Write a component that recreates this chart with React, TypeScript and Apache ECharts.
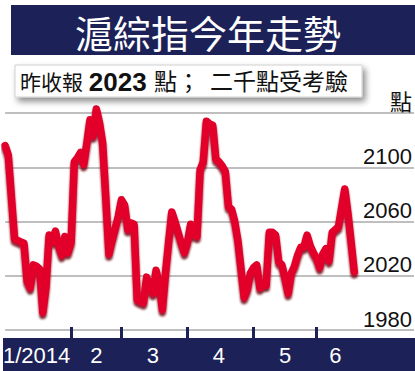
import React, { useEffect, useRef } from "react";
import * as echarts from "echarts";

// Trading days (2014) and closing values of the Shanghai Composite
const janDays = [2, 3, 6, 7, 8, 9, 10, 13, 14, 15, 16, 17, 20, 21, 22, 23, 24, 27, 28, 29, 30];
const janClose = [2116, 2109, 2078, 2047, 2046, 2045, 2044, 2016, 2011, 2028, 2027, 2025, 1993, 2012, 2050, 2045, 2053, 2042, 2035, 2049, 2037];
const febDays = [7, 10, 11, 12, 13, 14, 17, 18, 19, 20, 21, 24, 25, 26, 27, 28];
const febClose = [2045, 2104, 2107, 2111, 2102, 2118, 2135, 2123, 2143, 2133, 2118, 2078, 2036, 2046, 2055, 2064];
const marDays = [3, 4, 5, 6, 7, 10, 11, 12, 13, 14, 17, 18, 19, 20, 21, 24, 25, 26, 27, 28, 31];
const marClose = [2076, 2072, 2054, 2059, 2058, 2002, 2001, 2000, 2019, 2012, 2007, 2024, 2014, 1995, 2022, 2045, 2067, 2060, 2052, 2044, 2037];
const aprDays = [1, 2, 3, 4, 8, 9, 10, 11, 14, 15, 16, 17, 18, 21, 22, 23, 24, 25, 28, 29, 30];
const aprClose = [2045, 2058, 2050, 2049, 2098, 2104, 2134, 2132, 2131, 2106, 2104, 2101, 2097, 2071, 2069, 2060, 2046, 2025, 2004, 2010, 2022];
const mayDays = [5, 6, 7, 8, 9, 12, 13, 14, 15, 16, 19, 20, 21, 22, 23, 26, 27, 28, 29, 30];
const mayClose = [2026, 2028, 2011, 2013, 2013, 2052, 2052, 2050, 2030, 2028, 2018, 2007, 2022, 2027, 2035, 2041, 2041, 2050, 2042, 2037];
const junDays = [3, 4, 5, 6, 9, 10, 11, 12, 13, 16, 17, 18, 19];
const junClose = [2033, 2026, 2036, 2040, 2031, 2052, 2054, 2056, 2070, 2084, 2066, 2045, 2023];

const monthNumbers = [1, 2, 3, 4, 5, 6];
const monthLabels = ["1/2014", "2", "3", "4", "5", "6"];

const yMin = 1980;
const yMax = 2140;
const yStep = 40;
const unitLabel = "點";

const titleText = "滬綜指今年走勢";
const subPre = "昨收報";
const subBold = "2023";
const subPost = "點；";
const subTail = "二千點受考驗";

const NAVY = "#1c2158";
const RED = "#e2002a";
const LATIN = "'Liberation Sans', Arial, 'Noto Sans CJK TC', sans-serif";
const CJK = "'Liberation Sans', 'Noto Sans CJK TC', sans-serif";

const monthDays = [janDays, febDays, marDays, aprDays, mayDays, junDays];
const monthClose = [janClose, febClose, marClose, aprClose, mayClose, junClose];

export default function App() {
  const ref = useRef<HTMLDivElement>(null);

  useEffect(() => {
    if (!ref.current) return;
    const chart = echarts.init(ref.current, null, { renderer: "svg" });

    const categories: string[] = [];
    const values: number[] = [];
    const tickIdx = new Set<number>();
    const labelAt = new Map<number, string>();
    monthDays.forEach((days, k) => {
      const start = categories.length;
      if (k > 0) tickIdx.add(start);
      labelAt.set(start + Math.floor(days.length / 2), monthLabels[k]);
      days.forEach((d, j) => {
        categories.push(`${monthNumbers[k]}/${d}`);
        values.push(monthClose[k][j]);
      });
    });

    chart.setOption({
      animation: false,
      backgroundColor: "#ffffff",
      grid: { left: 3, right: 0, top: 113, bottom: 41, containLabel: false },
      xAxis: {
        type: "category",
        data: categories,
        boundaryGap: false,
        max: 130,
        offset: 8,
        axisLine: { show: false },
        axisTick: {
          show: true,
          inside: true,
          length: 11,
          interval: (i: number) => tickIdx.has(i),
          lineStyle: { color: NAVY, width: 3 },
        },
        axisLabel: {
          interval: (i: number) => labelAt.has(i),
          formatter: (_v: string, i: number) => labelAt.get(i) ?? "",
          color: "#ffffff",
          fontSize: 22,
          fontFamily: LATIN,
          margin: 6,
        },
        splitLine: { show: false },
      },
      yAxis: {
        type: "value",
        position: "right",
        min: yMin,
        max: yMax,
        interval: yStep,
        axisLine: { show: false },
        axisTick: { show: false },
        axisLabel: {
          inside: true,
          margin: 2,
          fontSize: 22,
          color: "#111111",
          fontFamily: LATIN,
          verticalAlign: "bottom",
          formatter: (v: number) => (v === yMax ? unitLabel : String(v)),
        },
        splitLine: { lineStyle: { color: "#aaaaaa", width: 1.5 } },
      },
      graphic: [
        {
          type: "rect",
          z: -1,
          shape: { x: 3, y: 338, width: 412, height: 33 },
          style: { fill: NAVY },
        },
        {
          type: "rect",
          z: 10,
          shape: { x: 11, y: 5, width: 404, height: 50 },
          style: { fill: NAVY },
        },
        {
          type: "text",
          z: 11,
          x: 208,
          y: 31,
          style: {
            text: titleText,
            fill: "#ffffff",
            fontSize: 38,
            fontFamily: "'Noto Sans CJK TC', sans-serif",
            align: "center",
            verticalAlign: "middle",
          },
        },
        {
          type: "rect",
          z: 10,
          shape: { x: 15, y: 65, width: 347, height: 32 },
          style: {
            fill: "#ffffff",
            stroke: "#d0d0d0",
            lineWidth: 1,
            shadowBlur: 6,
            shadowOffsetX: 3,
            shadowOffsetY: 4,
            shadowColor: "rgba(0,0,0,0.45)",
          },
        },
        {
          type: "text",
          z: 11,
          x: 20,
          y: 82,
          style: {
            text: `{a|${subPre} }{b|${subBold} }{c|${subPost}}{d| }{c|${subTail}}`,
            verticalAlign: "middle",
            rich: {
              a: { fontSize: 21, fontFamily: CJK, fill: "#111111" },
              b: { fontSize: 26, fontFamily: LATIN, fontWeight: "bold", fill: "#111111" },
              c: { fontSize: 23, fontFamily: CJK, fill: "#111111" },
              d: { fontSize: 36, fontFamily: LATIN, fill: "#111111" },
            },
          },
        },
      ],
      series: [
        {
          type: "line",
          data: values,
          showSymbol: false,
          symbol: "none",
          clip: false,
          lineStyle: {
            color: RED,
            width: 7.5,
            cap: "round",
            join: "round",
            shadowColor: "rgba(110,0,10,0.85)",
            shadowBlur: 2,
            shadowOffsetY: 3,
          },
        },
      ],
    });

    return () => chart.dispose();
  }, []);

  return (
    <div
      ref={ref}
      style={{ position: "fixed", left: 0, top: 0, width: 415, height: 371, background: "#fff" }}
    />
  );
}
